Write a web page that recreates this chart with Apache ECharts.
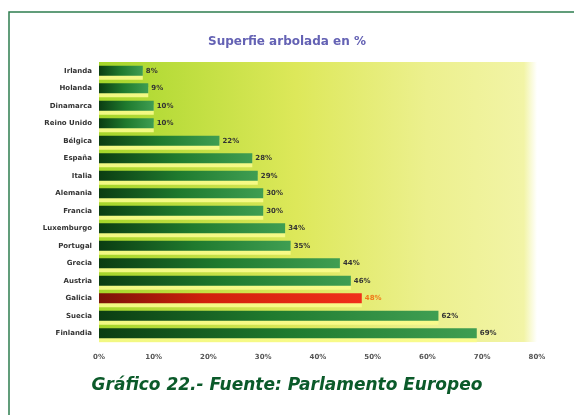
<!DOCTYPE html>
<html><head><meta charset="utf-8">
<script src="https://cdn.jsdelivr.net/npm/echarts@6/dist/echarts.min.js"></script>
<style>html,body{margin:0;padding:0;background:#fff}#c{width:574px;height:415px}</style>
</head><body><div id="c"></div>
<script>
const categories = ['Irlanda','Holanda','Dinamarca','Reino Unido','Bélgica','España','Italia','Alemania','Francia','Luxemburgo','Portugal','Grecia','Austria','Galicia','Suecia','Finlandia'];
const values = [8, 9, 10, 10, 22, 28, 29, 30, 30, 34, 35, 44, 46, 48, 62, 69];
const highlight = 'Galicia';
const xTicks = [0, 10, 20, 30, 40, 50, 60, 70, 80];
const caption = 'Gráfico 22.- Fuente: Parlamento Europeo';

const G = echarts.graphic.LinearGradient;
const greenBar = new G(0,0,1,0,[{offset:0,color:'#0b3d12'},{offset:0.5,color:'#1f7a2e'},{offset:1,color:'#3f9e52'}]);
const redBar = new G(0,0,1,0,[{offset:0,color:'#7a1208'},{offset:0.4,color:'#d0200c'},{offset:1,color:'#f0301a'}]);

const chart = echarts.init(document.getElementById('c'), null, {renderer:'canvas'});
chart.setOption({
  animation:false,
  backgroundColor:'#ffffff',
  graphic:[
    {type:'rect',shape:{x:9,y:12,width:600,height:500},style:{fill:'none',stroke:'#2e7d4f',lineWidth:1.5},silent:true},
    {type:'text',left:'center',top:377,style:{text:caption,fill:'#0b5a2a',font:'italic bold 17px "DejaVu Sans"'},silent:true}
  ],
  title:{text:'Superfie arbolada en %',left:'center',top:31,
    textStyle:{color:'#6462b4',fontSize:12,fontWeight:'bold',fontFamily:'DejaVu Sans'}},
  grid:{left:99,right:37,top:62,bottom:73,show:true,borderWidth:0,
    backgroundColor:new G(0,0,1,0,[{offset:0,color:'#a6d62a'},{offset:0.45,color:'#dde85a'},{offset:0.75,color:'#ecf08e'},{offset:0.97,color:'#f2f4a6'},{offset:1,color:'#ffffff'}])},
  xAxis:{type:'value',min:0,max:80,interval:10,
    axisLine:{show:false},axisTick:{show:false},splitLine:{show:false},
    axisLabel:{formatter:v=>v+'%',color:'#555',fontSize:7,fontWeight:'bold',fontFamily:'DejaVu Sans',margin:12}},
  yAxis:{type:'category',data:categories,inverse:true,
    axisLine:{show:false},axisTick:{show:false},
    axisLabel:{color:'#333',fontSize:7,fontWeight:'bold',fontFamily:'DejaVu Sans',margin:7}},
  series:[{type:'bar',barWidth:10,
    data:values.map((v,i)=>({value:v,
      itemStyle:{color:categories[i]===highlight?redBar:greenBar,
        shadowColor:'rgba(250,252,140,0.9)',shadowOffsetY:4,shadowBlur:0},
      label:{color:categories[i]===highlight?'#f07818':'#333'}})),
    label:{show:true,position:'right',distance:3,formatter:p=>p.value+'%',fontSize:7,fontWeight:'bold',fontFamily:'DejaVu Sans'}
  }]
});
</script></body></html>
